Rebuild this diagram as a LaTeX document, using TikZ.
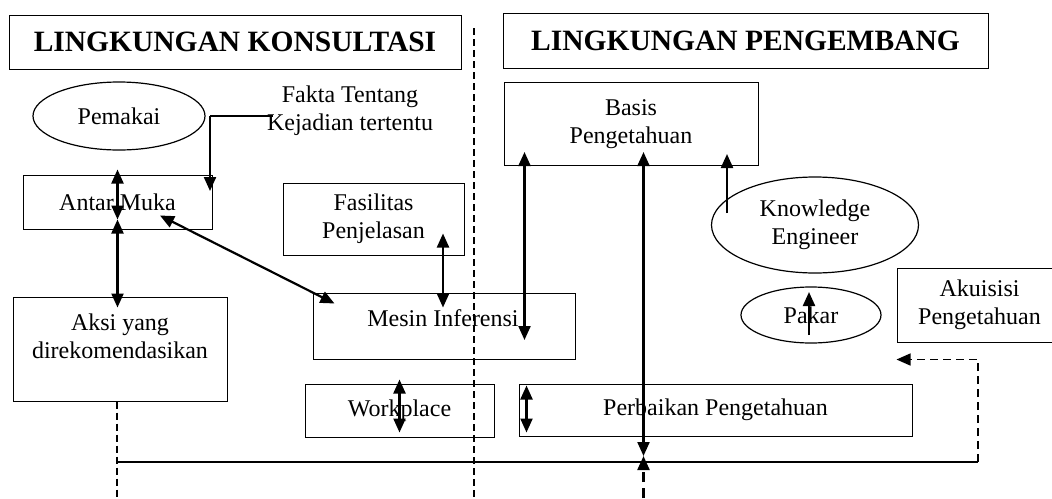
\documentclass[tikz,border=0pt]{standalone}
\usepackage{fontspec}
\setmainfont{Liberation Serif}
\usetikzlibrary{arrows.meta,shapes.geometric}

\begin{document}
\begin{tikzpicture}[x=1pt,y=-1pt,
    box/.style={shape=rectangle,draw,line width=1pt,inner sep=0pt,align=center,font=\fontsize{24}{28}\selectfont},
    oval/.style={shape=ellipse,draw,line width=1.2pt,inner sep=0pt,align=center,font=\fontsize{24}{28}\selectfont},
    titlebox/.style={shape=rectangle,draw,line width=1pt,inner sep=0pt,font=\fontsize{29.5}{33}\selectfont\bfseries},
    txt/.style={inner sep=0pt,align=center,font=\fontsize{24}{28}\selectfont},
    arr/.style={line width=2.2pt,-{Triangle[length=14pt,width=12pt]}},
    dbl/.style={line width=2.2pt,{Triangle[length=14pt,width=12pt]}-{Triangle[length=14pt,width=12pt]}}]
    \useasboundingbox (0,0) rectangle (1052,498);
    % headers
    \node[titlebox,minimum width=452pt,minimum height=54pt] (hkons) at (235,42) {LINGKUNGAN KONSULTASI};
    \node[titlebox,minimum width=485pt,minimum height=55pt] (hpeng) at (745.5,40.5) {LINGKUNGAN PENGEMBANG};
    \draw[line width=1.5pt,dash pattern=on 7pt off 4pt] (474,28) -- (474,498);
    % lingkungan konsultasi
    \node[oval,minimum width=172pt,minimum height=68pt] (pemakai) at (119,116) {Pemakai};
    \node[txt] (fakta) at (350,111) {Fakta Tentang\\Kejadian tertentu};
    \node[box,minimum width=189pt,minimum height=54pt] (antar) at (117.5,202) {Antar Muka};
    \node[box,minimum width=181pt,minimum height=72pt] (fasil) at (373.5,219) {Fasilitas\\Penjelasan};
    \node[box,minimum width=262pt,minimum height=66pt] (mesin) at (444,326) {};
    \node[txt] (mesintxt) at (443,318) {Mesin Inferensi};
    \node[box,minimum width=214pt,minimum height=104pt] (aksi) at (120,349) {};
    \node[txt] (aksitxt) at (120,336) {Aksi yang\\direkomendasikan};
    \node[box,minimum width=189pt,minimum height=53pt] (workpl) at (399.5,410.5) {Workplace};
    % lingkungan pengembang
    \node[box,minimum width=254pt,minimum height=83pt] (basis) at (631,124) {Basis\\Pengetahuan};
    \node[oval,minimum width=207pt,minimum height=96pt] (ke) at (815,225) {Knowledge\\Engineer};
    \node[oval,minimum width=140pt,minimum height=56pt] (pakar) at (811,315) {Pakar};
    \node[box,minimum width=165pt,minimum height=74pt] (akuis) at (979.5,305) {Akuisisi\\Pengetahuan};
    \node[box,minimum width=393pt,minimum height=52pt] (perb) at (715.5,410) {Perbaikan Pengetahuan};
    \coordinate (fk) at (210,116);
    \coordinate (bl) at (117,462);
    \coordinate (fb) at (978,462);
    % connectors
    \draw[line width=1.2pt] (fk) -- ++(63,0);
    \draw[arr] (fk) -- ++(0,75);
    \draw[dbl] ([yshift=5pt]antar.north) -- ([yshift=10pt]antar.south);
    \draw[dbl] ([yshift=10pt]antar.south) -- ([yshift=-11pt]aksi.north -| antar.south);
    \draw[dbl] ([xshift=42.5pt,yshift=14pt]antar.south) -- ([xshift=22pt,yshift=-11pt]mesin.north west);
    \draw[dbl] ([xshift=-1pt,yshift=-15pt]mesin.north) -- ++(0,-74);
    \draw[dbl] ([yshift=4pt]workpl.north) -- ++(0,53);
    \draw[dbl] ([xshift=21pt,yshift=14pt]basis.south west) -- ++(0,188);
    \draw[dbl] ([xshift=140pt,yshift=14pt]basis.south west) -- ++(0,304);
    \draw[arr,dash pattern=on 10pt off 6pt] ([xshift=140pt]basis.south west |- 0,498) -- ++(0,-42);
    \draw[arr] ([xshift=-88pt,yshift=12pt]ke.center) -- ++(0,-59);
    \draw[arr] ([xshift=-2pt,yshift=-20pt]pakar.center) -- ++(0,-43);
    \draw[dbl] ([xshift=8pt,yshift=-2pt]perb.north west) -- ++(0,47);
    \draw[line width=1.2pt] (bl) -- (fb);
    \draw[line width=1.5pt,dash pattern=on 7pt off 4pt] (aksi.south -| bl) -- ++(0,97);
    \draw[line width=1.5pt,dash pattern=on 8pt off 5pt,-{Triangle[length=14pt,width=12pt]}] (fb) |- ([yshift=-17pt]akuis.south west);
\end{tikzpicture}
\end{document}
